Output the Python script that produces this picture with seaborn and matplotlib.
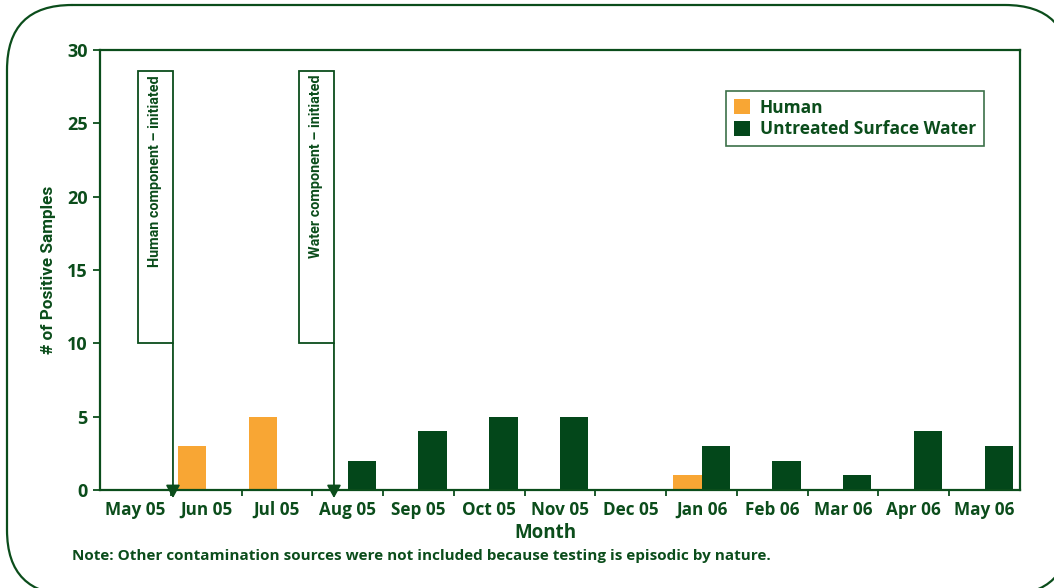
import matplotlib
matplotlib.use("Agg")
import matplotlib.pyplot as plt
from matplotlib.patches import FancyBboxPatch, Rectangle
import seaborn as sns
import pandas as pd

# Monthly counts of positive samples by contamination source
months = ["May 05", "Jun 05", "Jul 05", "Aug 05", "Sep 05", "Oct 05", "Nov 05",
          "Dec 05", "Jan 06", "Feb 06", "Mar 06", "Apr 06", "May 06"]
human = [0, 3, 5, 0, 0, 0, 0, 0, 1, 0, 0, 0, 0]
water = [0, 0, 0, 2, 4, 5, 5, 0, 3, 2, 1, 4, 3]
sources = ["Human", "Untreated Surface Water"]
y_ticks = [0, 5, 10, 15, 20, 25, 30]

GREEN = "#0b4d1b"
WATER = "#03471a"
ORANGE = "#f8a634"
MAIN_FONT = "Open Sans"
NARROW = ["Liberation Sans Narrow", "Roboto"]

W, H = 1054, 588

df = pd.DataFrame({
    "Month": months * 2,
    "Source": [sources[0]] * len(months) + [sources[1]] * len(months),
    "Count": human + water,
})

sns.set_theme(style="white")
plt.rcParams["font.family"] = [MAIN_FONT, "DejaVu Sans"]

fig = plt.figure(figsize=(W / 100, H / 100), dpi=100)

# Background layer in pixel units for the rounded outer frame
bg = fig.add_axes([0, 0, 1, 1], zorder=-1)
bg.set_xlim(0, W)
bg.set_ylim(H, 0)
bg.axis("off")
outline = FancyBboxPatch((7, 5), 1070 - 7, 595 - 5,
                         boxstyle="round,pad=0,rounding_size=65")
for poly in outline.get_path().to_polygons(closed_only=False):
    bg.plot(poly[:, 0], poly[:, 1], color=GREEN, lw=1.6,
            solid_joinstyle="round")

ax = fig.add_axes([100 / W, 1 - 490 / H, 920 / W, 440 / H])
ax.set_facecolor("none")

sns.barplot(data=df, x="Month", y="Count", hue="Source", order=months,
            hue_order=sources, palette=[ORANGE, WATER], saturation=1,
            width=0.8, gap=0, linewidth=0, errorbar=None, ax=ax)

ax.set_xlim(-0.5, len(months) - 0.5)
ax.set_ylim(0, 30)
ax.set_yticks(y_ticks)
ax.set_yticklabels([str(v) for v in y_ticks], fontweight="bold", fontsize=13,
                   color=GREEN)
ax.set_xticks(range(len(months)))
ax.set_xticklabels(months, fontweight="bold", fontsize=12.3, color=GREEN)
ax.set_xticks([i + 0.5 for i in range(len(months) - 1)], minor=True)
ax.tick_params(axis="x", which="major", length=0, pad=8)
ax.tick_params(axis="x", which="minor", length=4, width=1.3, color=GREEN,
               direction="out", bottom=True)
ax.tick_params(axis="y", which="major", length=5, width=1.3, color=GREEN,
               direction="out", left=True, pad=4)

for s in ax.spines.values():
    s.set_visible(True)
    s.set_color(GREEN)
    s.set_linewidth(1.6)

ax.set_xlabel("Month", fontweight="bold", fontsize=13.5, color=GREEN)
ax.xaxis.set_label_coords((545 - 100) / 920, -0.075)
ax.set_ylabel("# of Positive Samples", fontweight="bold", fontsize=12.3,
              color=GREEN, family=NARROW)
ax.yaxis.set_label_coords(-0.048, 0.5)

# Legend with square swatches
handles, labels = ax.get_legend_handles_labels()
leg = ax.legend(handles, labels, loc="upper right",
                bbox_to_anchor=(0.9605, 0.907), frameon=True, fancybox=False,
                handlelength=0.95, handleheight=0.95, handletextpad=0.55,
                borderpad=0.45, labelspacing=0.2, borderaxespad=0,
                prop={"weight": "bold", "size": 12.5, "family": MAIN_FONT})
leg.get_frame().set_edgecolor(GREEN)
leg.get_frame().set_linewidth(1.2)
for t in leg.get_texts():
    t.set_color(GREEN)

# Milestone callouts: labelled box with an arrow down to the start month
callouts = [
    ("Human component \u2013 initiated", 0.037, 0.531),
    ("Water component \u2013 initiated", 2.31, 2.806),
]
for text, x0, x1 in callouts:
    ax.add_patch(Rectangle((x0, 10), x1 - x0, 18.6, fill=False,
                           edgecolor=GREEN, linewidth=1.3, clip_on=False,
                           zorder=4))
    ax.text((x0 + x1) / 2, 28.3, text, rotation=90, ha="center", va="top",
            fontsize=10.4, color=GREEN, fontweight="bold", family=NARROW,
            zorder=5)
    ax.annotate("", xy=(x1, -0.55), xytext=(x1, 10),
                arrowprops=dict(arrowstyle="-|>,head_length=0.55,head_width=0.3",
                                mutation_scale=14, color=GREEN, lw=1.3,
                                shrinkA=0, shrinkB=0),
                annotation_clip=False, zorder=5)

fig.text(72 / W, 1 - 556 / H,
         "Note: Other contamination sources were not included because testing is episodic by nature.",
         fontsize=11, fontweight="bold", color=GREEN, va="center", ha="left")

fig.savefig("out.png", dpi=100, facecolor="white")
